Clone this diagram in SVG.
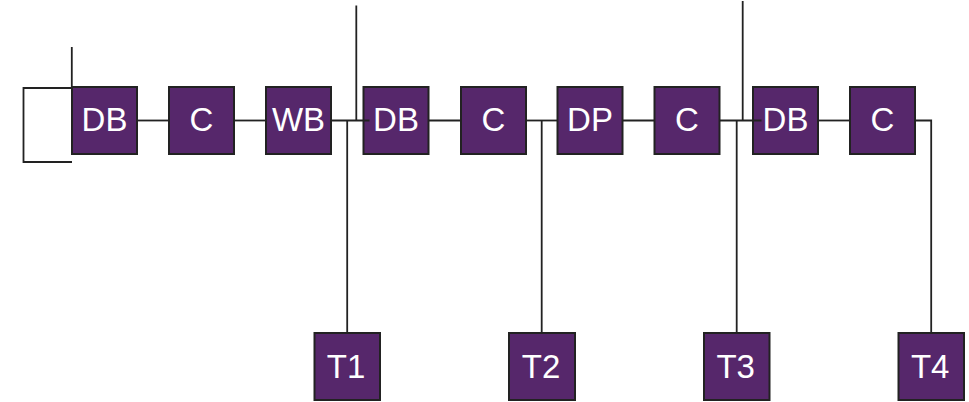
<svg xmlns="http://www.w3.org/2000/svg" width="969" height="402" viewBox="0 0 969 402">
<style>
.box{fill:#56276b;stroke:#222;stroke-width:2}
.lbl{fill:#fff;font-family:"Liberation Sans",Arial,sans-serif;font-size:33px;text-anchor:middle}
.wire{fill:none;stroke:#222;stroke-width:1.8}
</style>
<rect width="969" height="402" fill="#fff"/>
<g id="n-db1"><rect class="box" x="72" y="87" width="65" height="67"/><text class="lbl" x="104.5" y="131.2">DB</text></g>
<g id="n-c1"><rect class="box" x="169" y="87" width="65" height="67"/><text class="lbl" x="201.5" y="131.2">C</text></g>
<g id="n-wb"><rect class="box" x="266" y="87" width="65" height="67"/><text class="lbl" x="298.5" y="131.2">WB</text></g>
<g id="n-db2"><rect class="box" x="363.5" y="87" width="65" height="67"/><text class="lbl" x="396" y="131.2">DB</text></g>
<g id="n-c2"><rect class="box" x="461" y="87" width="65" height="67"/><text class="lbl" x="493.5" y="131.2">C</text></g>
<g id="n-dp"><rect class="box" x="557.5" y="87" width="65" height="67"/><text class="lbl" x="590" y="131.2">DP</text></g>
<g id="n-c3"><rect class="box" x="654.5" y="87" width="65" height="67"/><text class="lbl" x="687" y="131.2">C</text></g>
<g id="n-db3"><rect class="box" x="753" y="87" width="65" height="67"/><text class="lbl" x="785.5" y="131.2">DB</text></g>
<g id="n-c4"><rect class="box" x="850" y="87" width="65" height="67"/><text class="lbl" x="882.5" y="131.2">C</text></g>
<g id="n-t1"><rect class="box" x="314.5" y="333" width="65.5" height="67"/><text class="lbl" x="346" y="378.3">T1</text></g>
<g id="n-t2"><rect class="box" x="509" y="333" width="66" height="67"/><text class="lbl" x="541" y="378.3">T2</text></g>
<g id="n-t3"><rect class="box" x="704" y="333" width="65.5" height="67"/><text class="lbl" x="735.7" y="378.3">T3</text></g>
<g id="n-t4"><rect class="box" x="898.5" y="333" width="65.5" height="67"/><text class="lbl" x="930.2" y="378.3">T4</text></g>
<g id="connectors">
<polyline class="wire" points="72,162 23.5,162 23.5,88 72,88"/>
<line class="wire" x1="71.8" y1="47" x2="71.8" y2="88"/>
<line class="wire" x1="137" y1="120.5" x2="169" y2="120.5"/>
<line class="wire" x1="234" y1="120.5" x2="266" y2="120.5"/>
<line class="wire" x1="331" y1="120.5" x2="369.5" y2="120.5"/>
<line class="wire" x1="356.3" y1="5.5" x2="356.3" y2="120.5"/>
<line class="wire" x1="347.2" y1="120.5" x2="347.2" y2="333"/>
<line class="wire" x1="428.5" y1="120.5" x2="461" y2="120.5"/>
<line class="wire" x1="526" y1="120.5" x2="557.5" y2="120.5"/>
<line class="wire" x1="541.7" y1="120.5" x2="541.7" y2="333"/>
<line class="wire" x1="622.5" y1="120.5" x2="654.5" y2="120.5"/>
<line class="wire" x1="719.5" y1="120.5" x2="761.5" y2="120.5"/>
<line class="wire" x1="742.7" y1="1" x2="742.7" y2="120.5"/>
<line class="wire" x1="736.7" y1="120.5" x2="736.7" y2="333"/>
<line class="wire" x1="818" y1="120.5" x2="850" y2="120.5"/>
<polyline class="wire" points="915,120.5 931.2,120.5 931.2,333"/>
</g>
</svg>
